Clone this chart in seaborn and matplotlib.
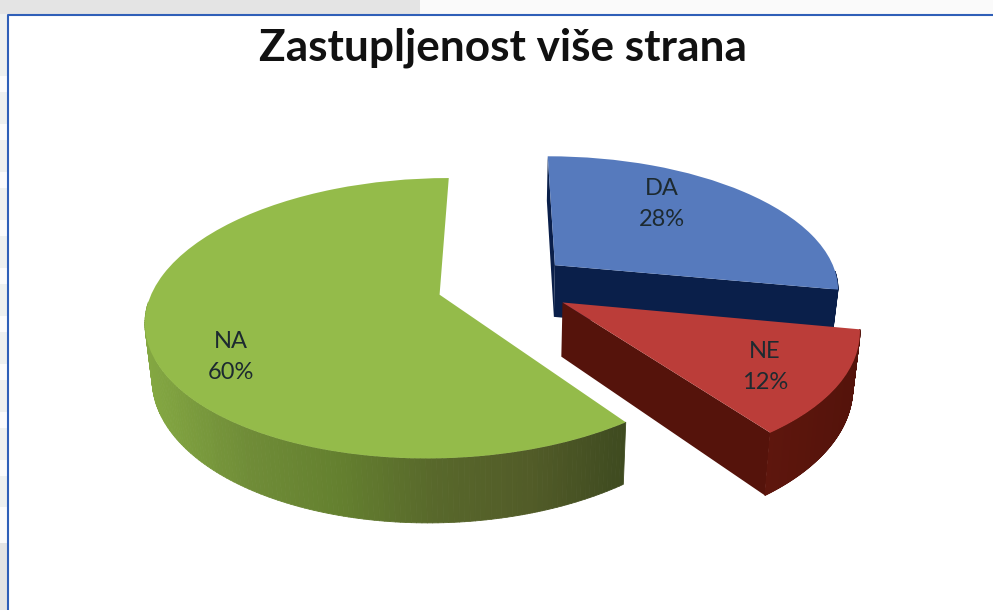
import numpy as np
import matplotlib
matplotlib.use("Agg")
import matplotlib.pyplot as plt
from matplotlib.collections import PolyCollection
from matplotlib.patches import Polygon, Rectangle
from matplotlib.transforms import Transform
import seaborn as sns

title = "Zastupljenost više strana"
categories = ["DA", "NE", "NA"]
shares = [28, 12, 60]
top_colors = ["#567abd", "#bb3d39", "#94bb4a"]
wall_colors = [["#0a1f4a", "#0a1f4a"],
               ["#5e160d", "#54130b"],
               ["#84a842", "#708d38", "#64802f", "#58682b", "#525c28", "#3f4b20"]]

# picture layout, pixels
WIDTH, HEIGHT = 993, 610
CX, CY = 503.5, 285
RX, RY = 285, 133
PERSP = 0.166
DEPTH = 53
SHRINK = 0.02
explode = [0.24, 0.24, 0.233]
label_xy = [(662, 204), (765, 367), (231, 357)]


def project(u, v, drop=0.0):
    s = 1 / (1 + PERSP * v)
    narrow = 1 - SHRINK * drop / DEPTH
    return np.column_stack([CX + RX * u * s * narrow, CY - RY * v * s + drop * s])


class Tilt(Transform):
    # lays the flat pie down in the picture
    input_dims = 2
    output_dims = 2

    def transform_non_affine(self, values):
        values = np.asarray(values)
        return project(values[:, 0], values[:, 1])


sns.set_theme(style="white")
plt.rcParams["font.family"] = ["Lato", "DejaVu Sans"]

fig = plt.figure(figsize=(WIDTH / 100, HEIGHT / 100), dpi=100)
ax = fig.add_axes([0, 0, 1, 1])
wedges, _ = ax.pie(shares, colors=top_colors, startangle=90, counterclock=False,
                   explode=explode)
ax.set_aspect("auto")
ax.set_xlim(0, WIDTH)
ax.set_ylim(HEIGHT, 0)
ax.axis("off")

# page behind the chart
ax.add_patch(Rectangle((0, 0), 420, 14, color="#e4e4e4", lw=0, zorder=0))
ax.add_patch(Rectangle((420, 0), WIDTH - 420, 14, color="#fafafa", lw=0, zorder=0))
ax.add_patch(Rectangle((0, 14), 8, HEIGHT - 14, color="#eef0ef", lw=0, zorder=0))
for y in range(76, 508, 48):
    ax.add_patch(Rectangle((0, y), 8, 16, color="#fbfbfb", lw=0, zorder=0.1))
ax.add_patch(Rectangle((0, 507), 8, 36, color="#fbfbfb", lw=0, zorder=0.1))
ax.add_patch(Rectangle((0, 543), 8, HEIGHT - 543, color="#e4e4e4", lw=0, zorder=0.1))
ax.plot([WIDTH, 7.5, 7.5], [14.5, 14.5, HEIGHT], color="#2f5fb8", lw=1.5, zorder=0.2)

tilt = Tilt()
draw_order = [0, 2, 1]  # red sits in front of the blue wall
cut_ends = {0: (0, -1), 1: (0,), 2: ()}  # cut faces the viewer can see
for rank, i in enumerate(draw_order):
    wedge = wedges[i]
    base = 1 + rank * 3
    cu, cv = wedge.center
    t = np.radians(np.linspace(wedge.theta1, wedge.theta2, 240))
    u = cu + np.cos(t)
    v = cv + np.sin(t)
    pal = sns.blend_palette(wall_colors[i], as_cmap=True)

    for end in cut_ends[i]:
        tops = project(np.array([cu, u[end]]), np.array([cv, v[end]]))
        bots = project(np.array([cu, u[end]]), np.array([cv, v[end]]), DEPTH)
        face = Polygon(np.vstack([tops, bots[::-1]]), closed=True, lw=0,
                       color=pal(0.9), zorder=base)
        ax.add_patch(face)

    # round outer wall, only the front part, shaded along x
    top = project(u, v)
    bot = project(u, v, DEPTH)
    front = [j for j in range(len(t) - 1) if np.sin(t[j]) < -0.05]
    quads = [[top[j], top[j + 1], bot[j + 1], bot[j]] for j in front]
    xs = top[front, 0]
    shades = pal(np.clip((xs - xs.min()) / np.ptp(xs), 0, 1))
    ax.add_collection(PolyCollection(quads, facecolors=shades, edgecolors=shades,
                                     linewidths=0.6, zorder=base + 1), autolim=False)

    wedge.set_transform(tilt + ax.transData)
    wedge.set_zorder(base + 2)
    wedge.set_linewidth(0)

for name, share, (x, y) in zip(categories, shares, label_xy):
    ax.text(x, y, f"{name}\n{share}%", ha="center", va="center", fontsize=17,
            color="#1d2a30", linespacing=1.6, zorder=20)

ax.text(502.5, 48, title, ha="center", va="center", fontsize=31.8, fontweight="bold",
        color="#111111", zorder=20)

fig.savefig("out.png", dpi=100)
